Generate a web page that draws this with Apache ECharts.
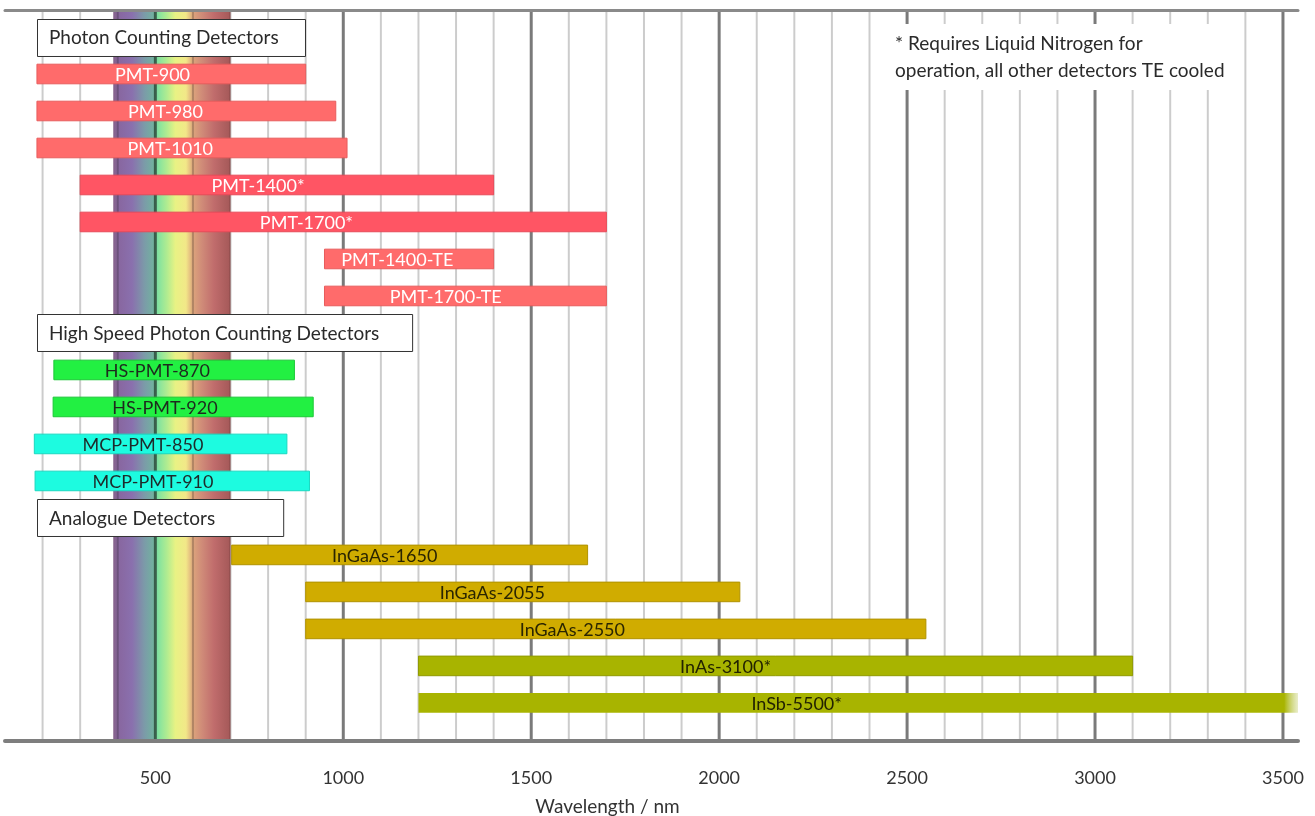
<!DOCTYPE html>
<html>
<head>
<meta charset="utf-8">
<script src="https://cdn.jsdelivr.net/npm/echarts@6/dist/echarts.min.js"></script>
<style>
html,body{margin:0;padding:0;background:#fff;}
#chart{width:1315px;height:816px;}
</style>
</head>
<body>
<div id="chart"></div>
<script>
// ---- data ----
const xMin = 100, xMax = 3540;
const majorTicks = [500, 1000, 1500, 2000, 2500, 3000, 3500];
const minorTicks = [200, 300, 400, 600, 700, 800, 900, 1100, 1200, 1300, 1400, 1600, 1700, 1800, 1900,
  2100, 2200, 2300, 2400, 2600, 2700, 2800, 2900, 3100, 3200, 3300, 3400];
const spectrumRange = [388, 700];

const headerNames = ['Photon Counting Detectors', 'High Speed Photon Counting Detectors', 'Analogue Detectors'];
const headerRows = [0, 8, 13];
const headerStart = [185, 185, 185];
const headerEnd = [898, 1183, 840];

const detectorNames = ['PMT-900', 'PMT-980', 'PMT-1010', 'PMT-1400*', 'PMT-1700*', 'PMT-1400-TE', 'PMT-1700-TE',
  'HS-PMT-870', 'HS-PMT-920', 'MCP-PMT-850', 'MCP-PMT-910',
  'InGaAs-1650', 'InGaAs-2055', 'InGaAs-2550', 'InAs-3100*', 'InSb-5500*'];
const detectorRows = [1, 2, 3, 4, 5, 6, 7, 9, 10, 11, 12, 14, 15, 16, 17, 18];
const detectorStart = [185, 185, 185, 300, 300, 950, 950, 230, 228, 178, 180, 703, 900, 900, 1200, 1200];
const detectorEnd = [900, 980, 1010, 1400, 1700, 1400, 1700, 870, 920, 850, 910, 1650, 2055, 2550, 3100, 5500];
const detectorGroup = ['pmt', 'pmt', 'pmt', 'pmtLN', 'pmtLN', 'pmt', 'pmt',
  'hs', 'hs', 'mcp', 'mcp', 'ingaas', 'ingaas', 'ingaas', 'ir', 'ir'];

const noteLines = ['* Requires Liquid Nitrogen for', 'operation, all other detectors TE cooled'];
const axisTitle = 'Wavelength / nm';

// ---- styles ----
const FONT = 'Lato';
const groupStyle = {
  pmt:    { fill: '#ff6b6b', stroke: '#e85c5c', text: '#ffffff' },
  pmtLN:  { fill: '#ff5564', stroke: '#e84a58', text: '#ffffff' },
  hs:     { fill: '#22f042', stroke: '#1bc836', text: '#1e2a1e' },
  mcp:    { fill: '#1dfbe0', stroke: '#19d8c0', text: '#1e2a2a' },
  ingaas: { fill: '#d0ac00', stroke: '#b09200', text: '#2a2500' },
  ir:     { fill: '#a8b400', stroke: '#909a00', text: '#222200' }
};

const chart = echarts.init(document.getElementById('chart'), null, { renderer: 'canvas' });

const detectorData = detectorNames.map((n, i) => [detectorStart[i], detectorEnd[i], detectorRows[i], n, detectorGroup[i]]);
const headerData = headerNames.map((n, i) => [headerStart[i], headerEnd[i], headerRows[i], n]);

function barRender(params, api) {
  const s = api.value(0), e = api.value(1), r = api.value(2);
  const name = api.value(3);
  const grp = detectorGroup[params.dataIndex];
  const st = groupStyle[grp];
  const p1 = api.coord([s, r]);
  const p2 = api.coord([e, r]);
  const rowH = api.size([0, 1])[1];
  const h = rowH * 0.53;
  const cs = params.coordSys;
  const rect = echarts.graphic.clipRectByRect(
    { x: p1[0], y: p1[1] - h / 2, width: p2[0] - p1[0], height: h },
    { x: cs.x, y: cs.y, width: cs.width, height: cs.height }
  );
  if (!rect) return;
  let fill = st.fill;
  const clipped = p2[0] > cs.x + cs.width;
  if (clipped) {
    const f = Math.max(0, (rect.width - 14) / rect.width);
    fill = new echarts.graphic.LinearGradient(0, 0, 1, 0, [
      { offset: 0, color: st.fill }, { offset: f, color: st.fill }, { offset: 1, color: 'rgba(200,210,120,0.4)' }
    ]);
  }
  return {
    type: 'group',
    children: [
      { type: 'rect', shape: rect, style: { fill: fill, stroke: clipped ? null : st.stroke, lineWidth: 1 } },
      { type: 'text', x: rect.x + rect.width * 0.43, y: p1[1] + 1,
        style: { text: name, fill: st.text, font: '18px ' + FONT, align: 'center', verticalAlign: 'middle' } }
    ]
  };
}

function headerRender(params, api) {
  const s = api.value(0), e = api.value(1), r = api.value(2);
  const p1 = api.coord([s, r]);
  const p2 = api.coord([e, r]);
  const rowH = api.size([0, 1])[1];
  const h = rowH;
  return {
    type: 'group',
    children: [
      { type: 'rect', shape: { x: Math.round(p1[0]) + 0.5, y: Math.round(p1[1] - h / 2) + 0.5, width: p2[0] - p1[0], height: h },
        style: { fill: '#ffffff', stroke: '#333333', lineWidth: 1 } },
      { type: 'text', x: p1[0] + 12, y: p1[1] + 1,
        style: { text: api.value(3), fill: '#2a2a2a', font: '19px ' + FONT, align: 'left', verticalAlign: 'middle' } }
    ]
  };
}

function gridLineRender(major) {
  return function (params, api) {
    const v = api.value(0);
    const cs = params.coordSys;
    const x = api.coord([v, 0])[0];
    return {
      type: 'line',
      shape: { x1: x, y1: cs.y, x2: x, y2: cs.y + cs.height },
      style: { stroke: major ? 'rgba(0,0,0,0.52)' : 'rgba(0,0,0,0.2)', lineWidth: major ? 3 : 2 }
    };
  };
}

function spectrumRender(params, api) {
  const cs = params.coordSys;
  const a = api.coord([api.value(0), 0])[0];
  const b = api.coord([api.value(1), 0])[0];
  return {
    type: 'rect',
    shape: { x: a, y: cs.y, width: b - a, height: cs.height },
    style: {
      fill: new echarts.graphic.LinearGradient(0, 0, 1, 0, [
        { offset: 0.00, color: '#85628a' },
        { offset: 0.05, color: '#8867a0' },
        { offset: 0.16, color: '#8a70ae' },
        { offset: 0.27, color: '#7b9ca8' },
        { offset: 0.34, color: '#72b0a0' },
        { offset: 0.38, color: '#80e2a0' },
        { offset: 0.46, color: '#b2ec90' },
        { offset: 0.53, color: '#e8f284' },
        { offset: 0.62, color: '#f2e888' },
        { offset: 0.68, color: '#dca47c' },
        { offset: 0.76, color: '#cf8a78' },
        { offset: 0.86, color: '#c06c6c' },
        { offset: 1.00, color: '#a45858' }
      ])
    }
  };
}

const option = {
  backgroundColor: '#ffffff',
  animation: false,
  grid: { left: 5, right: 17, top: 10, bottom: 75, containLabel: false, outerBoundsMode: 'none' },
  xAxis: [
    {
      type: 'value', min: xMin, max: xMax, interval: 100, position: 'bottom', z: 5,
      axisLine: { show: true, onZero: false, lineStyle: { color: '#7e7e7e', width: 4 } },
      axisTick: { show: false },
      splitLine: { show: false },
      axisLabel: {
        margin: 28, color: '#333', fontFamily: FONT, fontSize: 18,
        formatter: v => (majorTicks.indexOf(v) >= 0 ? String(v) : '')
      },
      name: axisTitle, nameLocation: 'middle', nameGap: 56,
      nameTextStyle: { color: '#333', fontFamily: FONT, fontSize: 19, padding: [0, 88, 0, 0] }
    },
    {
      type: 'value', min: xMin, max: xMax, position: 'top', z: 5,
      axisLine: { show: true, onZero: false, lineStyle: { color: '#8a8a8a', width: 3 } },
      axisTick: { show: false }, axisLabel: { show: false }, splitLine: { show: false }
    }
  ],
  yAxis: {
    type: 'value', inverse: true, min: -0.73, max: 19.03, show: false
  },
  series: [
    { type: 'custom', z: 1, silent: true, renderItem: spectrumRender, data: [spectrumRange], encode: { x: [0, 1] } },
    { type: 'custom', z: 2, silent: true, renderItem: gridLineRender(false), data: minorTicks.map(v => [v]), encode: { x: 0 } },
    { type: 'custom', z: 2, silent: true, renderItem: gridLineRender(true), data: majorTicks.map(v => [v]), encode: { x: 0 } },
    { type: 'custom', z: 3, silent: true, renderItem: headerRender, data: headerData, encode: { x: [0, 1], y: 2 } },
    { type: 'custom', z: 3, silent: true, renderItem: barRender, data: detectorData, encode: { x: [0, 1], y: 2 } }
  ],
  graphic: [
    { type: 'rect', z: 10, shape: { x: 880, y: 24, width: 362, height: 66 }, style: { fill: '#ffffff' } },
    { type: 'text', z: 11, left: 895, top: 30,
      style: { text: noteLines.join('\n'), fill: '#2a2a2a', font: '19px ' + FONT, lineHeight: 27 } }
  ]
};

chart.setOption(option);
</script>
</body>
</html>
